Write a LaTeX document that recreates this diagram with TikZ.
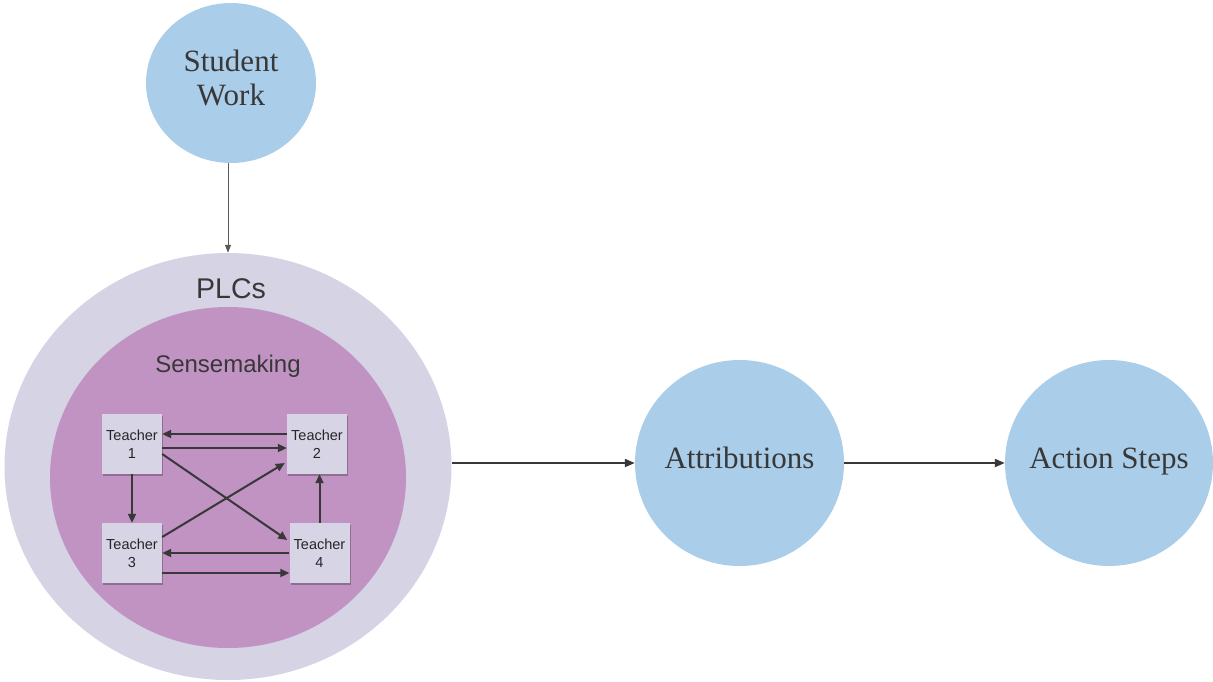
\documentclass[tikz,border=0pt]{standalone}
\usepackage{fontspec}
\setmainfont{Liberation Serif}
\setsansfont{Liberation Sans}
\usetikzlibrary{shapes.geometric,arrows.meta,calc,shadows}
\definecolor{bubble}{HTML}{AACDE9}
\definecolor{plc}{HTML}{D5D3E4}
\definecolor{sense}{HTML}{C093C2}
\definecolor{boxfill}{HTML}{D7D5E5}
\definecolor{ink}{HTML}{383838}
\begin{document}
\begin{tikzpicture}[x=1pt,y=-1pt,
  bubble/.style={ellipse, fill=bubble, inner sep=-40pt, text=ink, align=center,
    font=\fontsize{31}{34}\selectfont, text height=14pt, text depth=4pt},
  bubtext/.style={text=ink, align=center, inner sep=0pt,
    font=\fontsize{31}{34}\selectfont},
  teacher/.style={rectangle, fill=boxfill, minimum width=60pt, minimum height=60pt,
    inner sep=0pt, align=center, text=black!85,
    font=\sffamily\fontsize{14.5}{18}\selectfont,
    drop shadow={shadow xshift=1pt, shadow yshift=-1.5pt, opacity=0.25, fill=black}},
  link/.style={draw=ink, line width=2pt, -{Triangle[length=9pt,width=8pt]}},
  flow/.style={draw=ink, line width=2pt, -{Triangle[length=10pt,width=8pt]}},
  feed/.style={draw=black!65, line width=1pt, -{Triangle[length=8pt,width=6pt]}},
  title/.style={anchor=base, text=ink}
]
\useasboundingbox (0,0) rectangle (1213,681);

% Student Work
\node[ellipse, fill=bubble, inner sep=0pt, minimum width=170pt, minimum height=160pt] (sw) at (231,83) {};
\node[bubtext] (swt) at (231,78) {Student\\Work};

% PLCs and Sensemaking
\node[ellipse, fill=plc, minimum width=447pt, minimum height=427pt, inner sep=0pt] (plc) at (228,466.5) {};
\node[title, font=\sffamily\fontsize{28.5}{30}\selectfont] (plct) at (231,298) {PLCs};
\node[ellipse, fill=sense, minimum width=356pt, minimum height=341pt, inner sep=0pt] (sm) at (228,477.5) {};
\node[title, font=\sffamily\fontsize{24}{26}\selectfont] (smt) at (228,372) {Sensemaking};

% Teachers
\node[teacher] (t1) at (132,444) {Teacher\\1};
\node[teacher] (t2) at (317,444) {Teacher\\2};
\node[teacher] (t3) at (132,553) {Teacher\\3};
\node[teacher] (t4) at (319.5,553) {Teacher\\4};

% Attributions and Action Steps
\node[bubble, minimum width=209pt, minimum height=206pt] (att) at (739.5,463) {Attributions};
\node[bubble, minimum width=208pt, minimum height=206pt] (act) at (1109,463) {Action Steps};

% Connectors
\draw[feed] (sw.south -| plc.north) -- (plc.north);
\draw[flow] (att.west -| plc.east) -- (att.west);
\draw[flow] (att.east) -- (act.west);

\draw[link] ([yshift=10pt]t2.west) -- ([yshift=10pt]t2.west -| t1.east);
\draw[link] ([yshift=-4pt]t1.east) -- ([yshift=-4pt]t1.east -| t2.west);
\draw[link] (t1.south) -- (t3.north);
\draw[link] ([yshift=-10pt]t1.east) -- ([yshift=13pt,xshift=-2pt]t4.west);
\draw[link] ([yshift=16pt]t3.east) -- ([yshift=-19pt,xshift=-2pt]t2.west);
\draw[link] (t4.north) -- (t4.north |- t2.south);
\draw[link] (t4.west) -- (t4.west -| t3.east);
\draw[link] ([yshift=-20pt]t3.east) -- ([yshift=-20pt]t3.east -| t4.west);
\end{tikzpicture}
\end{document}
